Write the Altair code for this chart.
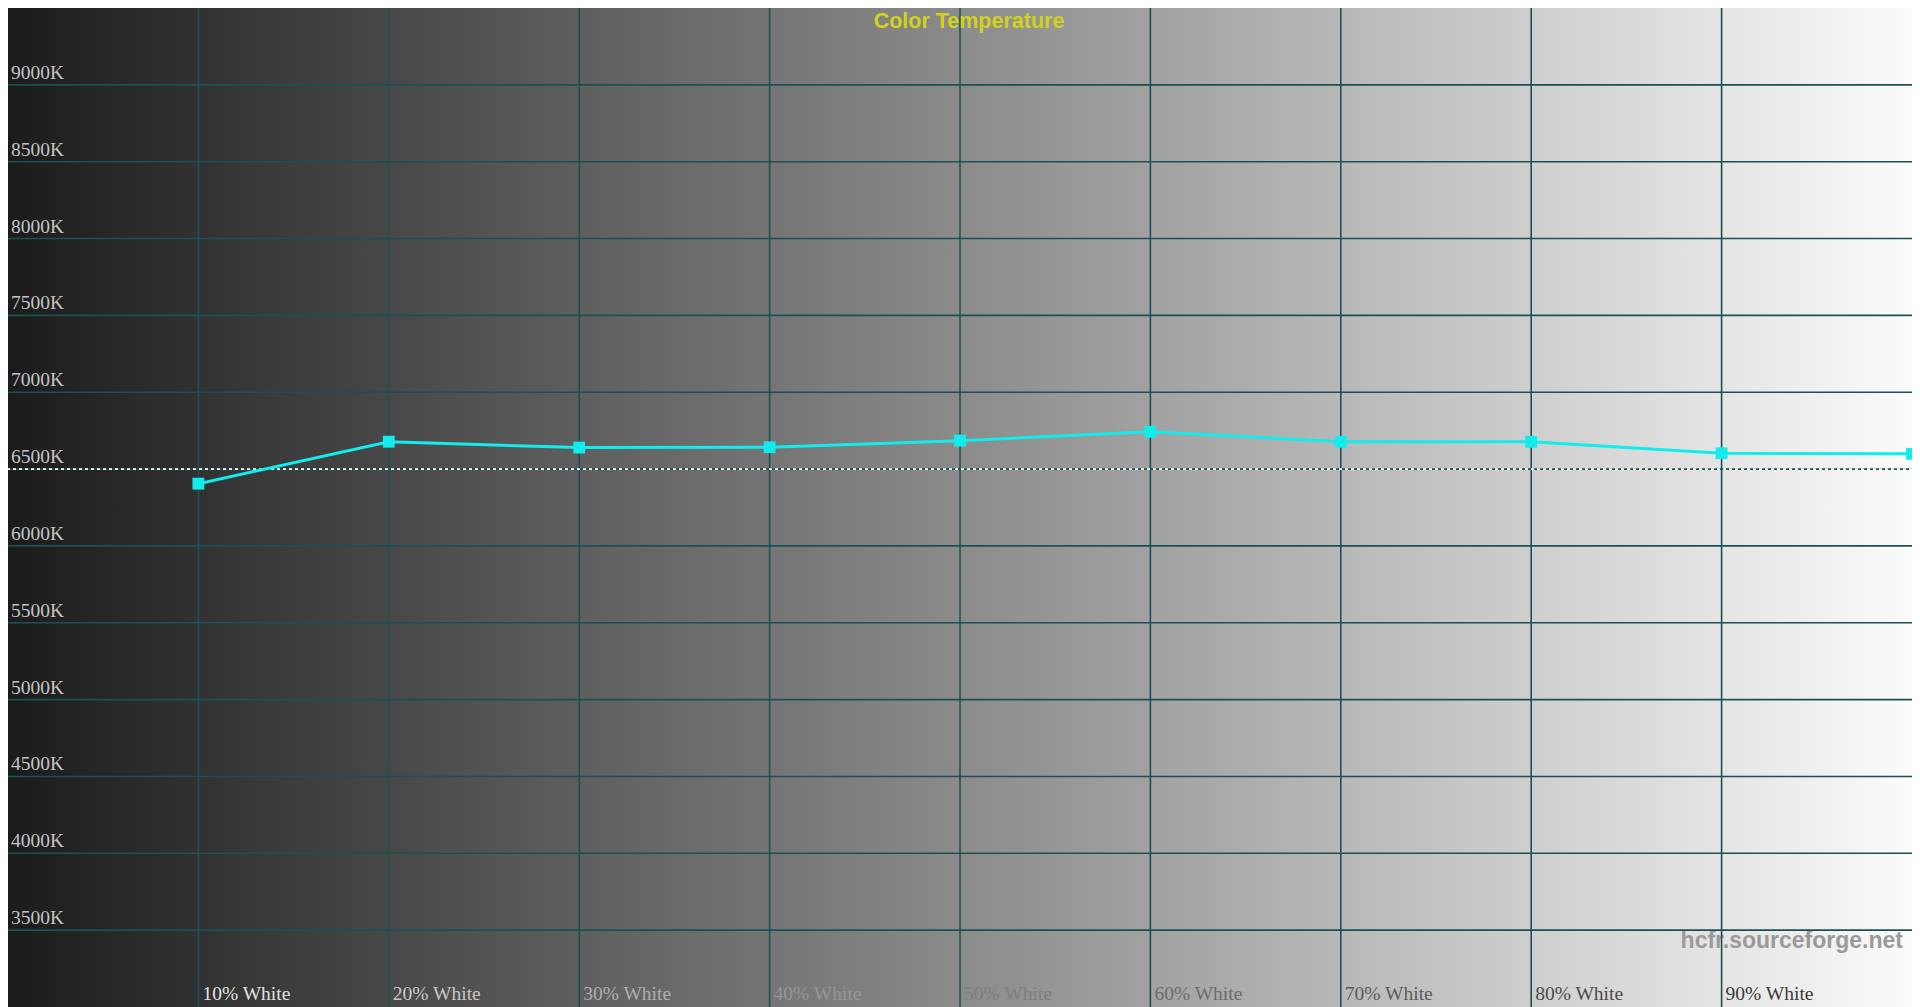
import altair as alt
import pandas as pd

# ---- data ----
levels = [10, 20, 30, 40, 50, 60, 70, 80, 90, 100]
cct = [6405, 6678, 6640, 6642, 6685, 6743, 6678, 6678, 6603, 6599]
x_grid = [10, 20, 30, 40, 50, 60, 70, 80, 90]
x_labels = ["10% White", "20% White", "30% White", "40% White", "50% White",
            "60% White", "70% White", "80% White", "90% White"]
y_ticks = [3500, 4000, 4500, 5000, 5500, 6000, 6500, 7000, 7500, 8000, 8500, 9000]
y_labels = ["3500K", "4000K", "4500K", "5000K", "5500K", "6000K", "6500K",
            "7000K", "7500K", "8000K", "8500K", "9000K"]
target = [6500]
title_text = "Color Temperature"
watermark = "hcfr.sourceforge.net"
x_domain = [0, 100]
y_domain = [3000, 9500]

W, H = 1904, 999
GRID = "#1d5151"
CYAN = "#12ecec"

df = pd.DataFrame({"level": levels, "cct": cct})
lab_df = pd.DataFrame({"level": x_grid, "label": x_labels})
ytick_df = pd.DataFrame({"v": y_ticks, "label": y_labels, "x": [x_domain[0]] * len(y_ticks)})
xgrid_df = pd.DataFrame({"g": x_grid})
t_df = pd.DataFrame({"t": target})
bg_df = pd.DataFrame({"x0": [x_domain[0]], "x1": [x_domain[1]],
                      "y0": [y_domain[0]], "y1": [y_domain[1]]})

xs = alt.Scale(domain=x_domain, nice=False, zero=False)
ys = alt.Scale(domain=y_domain, nice=False, zero=False)

bg = alt.Chart(bg_df).mark_rect(
    color=alt.Gradient(
        gradient="linear",
        stops=[alt.GradientStop(color="#1b1b1b", offset=0),
               alt.GradientStop(color="#fbfbfb", offset=1)],
        x1=0, x2=1, y1=0, y2=0,
    )
).encode(
    x=alt.X("x0:Q", scale=xs, axis=None), x2="x1:Q",
    y=alt.Y("y0:Q", scale=ys, axis=None), y2="y1:Q",
)

wm = alt.Chart(pd.DataFrame({"w": [watermark], "x": [x_domain[1]], "y": [y_ticks[0]]})).mark_text(
    align="right", baseline="alphabetic", font="Liberation Sans", fontWeight="bold",
    fontSize=23, color="#9a9a9a", dx=-9, dy=18,
).encode(x=alt.X("x:Q", scale=xs, axis=None), y=alt.Y("y:Q", scale=ys, axis=None), text="w:N")

ygrid = alt.Chart(ytick_df).mark_rule(color=GRID, strokeWidth=1.6).encode(
    y=alt.Y("v:Q", scale=ys, axis=None)
)

ylab = alt.Chart(ytick_df).mark_text(
    align="left", baseline="alphabetic", dx=3, dy=-6, font="Liberation Serif",
    fontSize=19.5, color="#c4c4c4",
).encode(
    x=alt.X("x:Q", scale=xs, axis=None),
    y=alt.Y("v:Q", scale=ys, axis=None),
    text="label:N",
)

xgrid = alt.Chart(xgrid_df).mark_rule(color=GRID, strokeWidth=1.6).encode(
    x=alt.X("g:Q", scale=xs, axis=None)
)

dashed = alt.Chart(t_df).mark_rule(color="white", strokeWidth=1.8, strokeDash=[3, 3]).encode(
    y=alt.Y("t:Q", scale=ys, axis=None)
)

line = alt.Chart(df).mark_line(color=CYAN, strokeWidth=3).encode(
    x=alt.X("level:Q", scale=xs, axis=None),
    y=alt.Y("cct:Q", scale=ys, axis=None),
)
pts = alt.Chart(df).mark_square(color=CYAN, size=140, opacity=1).encode(
    x=alt.X("level:Q", scale=xs, axis=None),
    y=alt.Y("cct:Q", scale=ys, axis=None),
)

xlab = alt.Chart(lab_df).mark_text(
    align="left", baseline="alphabetic", dx=4, font="Liberation Serif", fontSize=19.5,
).encode(
    x=alt.X("level:Q", scale=xs, axis=None),
    y=alt.value(H - 7),
    text="label:N",
    color=alt.Color("level:Q", scale=alt.Scale(domain=[10, 50, 90],
                    range=["#e2e2e2", "#7e7e7e", "#3a3a3a"]), legend=None),
)

title = alt.Chart(pd.DataFrame({"t": [title_text], "x": [50], "y": [y_domain[1]]})).mark_text(
    align="center", baseline="top", font="Liberation Sans", fontWeight="bold",
    fontSize=21.5, color="#d2d21c", dx=9, dy=3,
).encode(x=alt.X("x:Q", scale=xs, axis=None), y=alt.Y("y:Q", scale=ys, axis=None), text="t:N")

chart = alt.layer(bg, wm, ygrid, xgrid, dashed, line, pts, ylab, xlab, title).properties(
    width=W, height=H, padding=0,
    autosize=alt.AutoSizeParams(type="none"),
).configure_view(stroke=GRID, strokeWidth=1.6).configure(background="white")

chart.save("out.html", embed_options={"renderer": "svg", "actions": False})
